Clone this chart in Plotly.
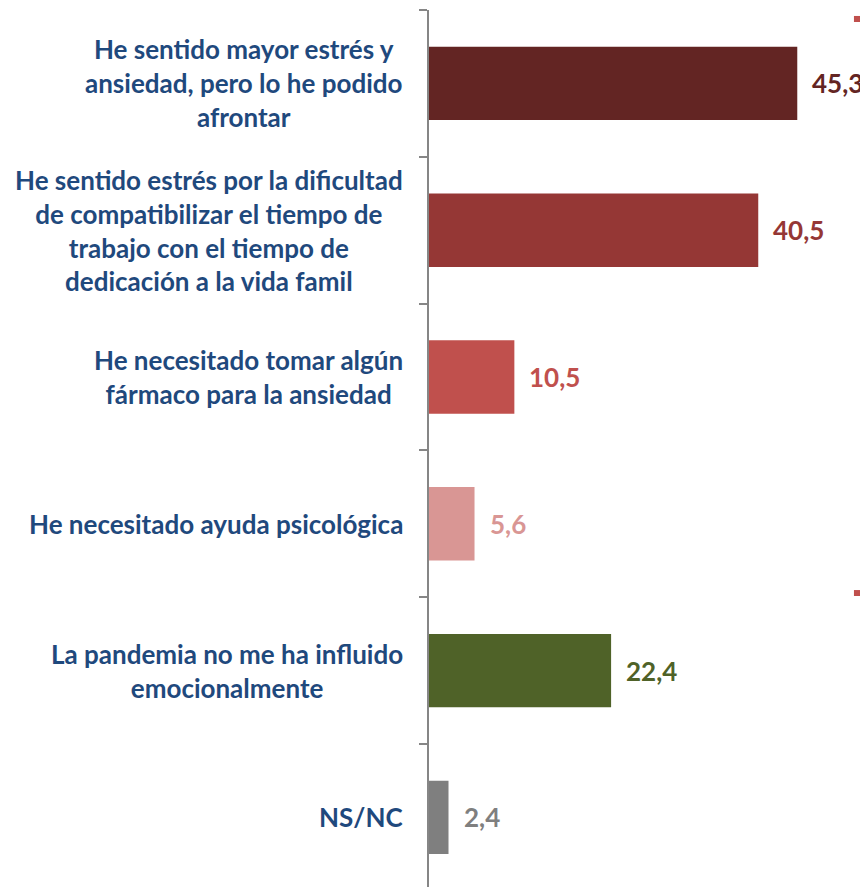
import plotly.graph_objects as go

categorias = [
    "He sentido mayor estrés y<br>ansiedad, pero lo he podido<br>afrontar",
    "He sentido estrés por la dificultad<br>de compatibilizar el tiempo de<br>trabajo con el tiempo de<br>dedicación a la vida famil",
    "He necesitado tomar algún<br>fármaco para la ansiedad",
    "He necesitado ayuda psicológica",
    "La pandemia no me ha influido<br>emocionalmente",
    "NS/NC",
]
valores = [45.3, 40.5, 10.5, 5.6, 22.4, 2.4]
colores = ["#632523", "#953735", "#C0504D", "#D99694", "#4F6228", "#7F7F7F"]

AZUL = "#1F497D"
GRIS = "#868686"
FUENTE = "Lato"

fig = go.Figure()
fig.add_trace(
    go.Bar(
        x=valores,
        y=categorias,
        orientation="h",
        marker=dict(color=colores, line=dict(width=0)),
        width=0.5,
        hoverinfo="skip",
    )
)

# etiquetas de valor a la derecha de cada barra
for cat, v, c in zip(categorias, valores, colores):
    fig.add_annotation(
        x=v, y=cat, xref="x", yref="y",
        text=f"{v:.1f}".replace(".", ","),
        showarrow=False, xanchor="left", xshift=13,
        font=dict(family=FUENTE, size=26, color=c, weight="bold"),
    )
    # etiquetas de categoria, centradas y pegadas al eje
    fig.add_annotation(
        x=0, y=cat, xref="paper", yref="y",
        text=cat, showarrow=False, xanchor="right", align="center",
        xshift=-24,
        font=dict(family=FUENTE, size=26, color=AZUL, weight="bold"),
    )

# marcas rojas sueltas del borde derecho
for y0, y1 in [(0.9863, 0.9932), (0.3318, 0.3386)]:
    fig.add_shape(
        type="rect", xref="paper", yref="paper",
        x0=0.968, x1=1.0, y0=y0, y1=y1,
        fillcolor="#C0504D", line=dict(width=0),
    )

# la pagina deja 8 px de margen en el body
fig.update_layout(
    width=860,
    height=879,
    margin=dict(l=421, r=0, t=2, b=0),
    plot_bgcolor="white",
    paper_bgcolor="white",
    showlegend=False,
    bargap=0.5,
    xaxis=dict(
        range=[0, 54.0],
        visible=False,
    ),
    yaxis=dict(
        type="category",
        categoryorder="array",
        categoryarray=categorias,
        range=[5.474, -0.5],
        showticklabels=False,
        ticks="outside",
        tickson="boundaries",
        ticklen=8,
        tickwidth=2,
        tickcolor=GRIS,
        showline=True,
        linecolor=GRIS,
        linewidth=2,
        showgrid=False,
        zeroline=False,
    ),
)

fig.write_html("out.html")
